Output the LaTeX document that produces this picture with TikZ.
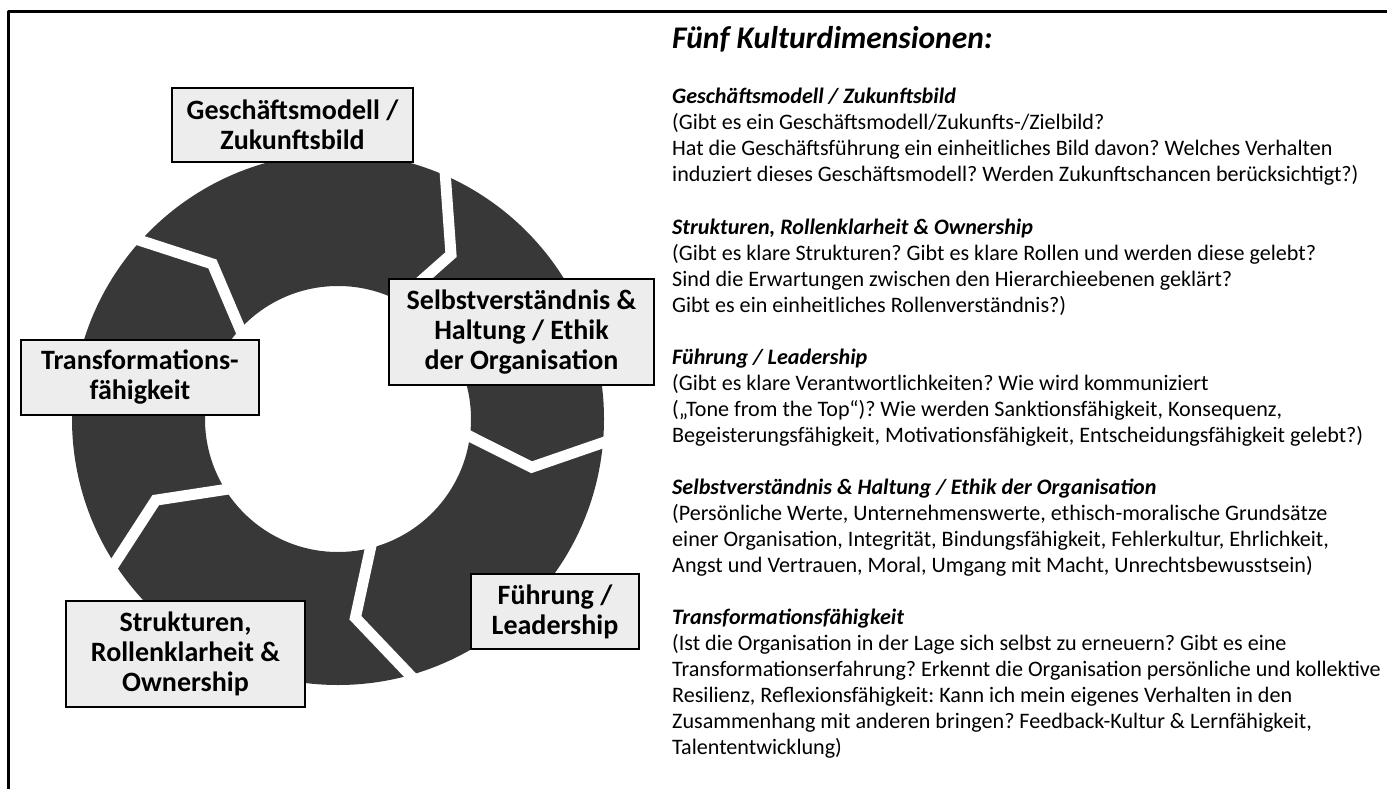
\documentclass[tikz,border=0pt]{standalone}
\usepackage{fontspec}
\setmainfont{Carlito}
\usepackage{tikz}
\definecolor{ringgray}{HTML}{383838}
\definecolor{boxgray}{HTML}{EDEDED}

\begin{document}
\frenchspacing
\begin{tikzpicture}[line cap=round,line join=round,x=1pt,y=1pt,
  dimbox/.style={draw=black,line width=1.8pt,fill=boxgray,align=center,inner sep=0pt,
    line cap=butt,line join=miter,font=\fontsize{28}{30}\selectfont\bfseries},
  gapline/.style={draw=white,line width=11pt,line cap=butt,line join=miter},
  dimtext/.style={anchor=base west,align=left,inner sep=0pt,font=\fontsize{22.1}{26}\selectfont}]
\useasboundingbox (0,0) rectangle (1387,-789);
\draw [line width=3.2pt,line cap=butt] (8.5,-850) -- (8.5,-11.5) -- (1450,-11.5);
% ring with five gaps (outer / tip / inner angle)
\fill [ringgray,even odd rule] (338,-419) circle (266) (338,-419) circle (133);
\begin{scope}[shift={(338,-419)}]
\foreach \o/\t/\i in {139/129/140,67.5/55.5/65,-4/-14/-5.5,-73/-85/-73,-146/-156/-145.5}
  \draw [gapline] (\o:278) -- (\t:199.5) -- (\i:121);
\end{scope}
% boxes
\node [dimbox,minimum width=241pt,minimum height=74pt] (geschaeft) at (292.5,-125) {Geschäftsmodell /\\Zukunftsbild};
\node [dimbox,minimum width=265pt,minimum height=106pt] (selbst) at (521.5,-332) {Selbstverständnis \&\\Haltung / Ethik\\der Organisation};
\node [dimbox,minimum width=238pt,minimum height=75pt] (transform) at (140,-377.5) {Transformations-\\fähigkeit};
\node [dimbox,minimum width=168pt,minimum height=75pt] (fuehrung) at (555,-611.5) {Führung /\\Leadership};
\node [dimbox,minimum width=239pt,minimum height=106pt] (strukturen) at (185.5,-654) {Strukturen,\\Rollenklarheit \&\\Ownership};
% texts (anchor at the baseline of the last line)
\node [anchor=base west,inner sep=0pt,font=\fontsize{31.5}{36}\selectfont\bfseries\itshape] (titel) at (672,-48.5) {Fünf Kulturdimensionen:};
\node [dimtext] (txtgeschaeft) at (672,-182) {{\bfseries\itshape Geschäftsmodell / Zukunftsbild}\\
(Gibt es ein Geschäftsmodell/Zukunfts-/Zielbild?\\
Hat die Geschäftsführung ein einheitliches Bild davon? Welches Verhalten\\
induziert dieses Geschäftsmodell? Werden Zukunftschancen berücksichtigt?)};
\node [dimtext] (txtstrukturen) at (672,-312) {{\bfseries\itshape Strukturen, Rollenklarheit \& Ownership}\\
(Gibt es klare Strukturen? Gibt es klare Rollen und werden diese gelebt?\\
Sind die Erwartungen zwischen den Hierarchieebenen geklärt?\\
Gibt es ein einheitliches Rollenverständnis?)};
\node [dimtext] (txtfuehrung) at (672,-442) {{\bfseries\itshape Führung / Leadership}\\
(Gibt es klare Verantwortlichkeiten? Wie wird kommuniziert\\
(„Tone from the Top“)? Wie werden Sanktionsfähigkeit, Konsequenz,\\
Begeisterungsfähigkeit, Motivationsfähigkeit, Entscheidungsfähigkeit gelebt?)};
\node [dimtext] (txtselbst) at (672,-572) {{\bfseries\itshape Selbstverständnis \& Haltung / Ethik der Organisation}\\
(Persönliche Werte, Unternehmenswerte, ethisch-moralische Grundsätze\\
einer Organisation, Integrität, Bindungsfähigkeit, Fehlerkultur, Ehrlichkeit,\\
Angst und Vertrauen, Moral, Umgang mit Macht, Unrechtsbewusstsein)};
\node [dimtext] (txttransform) at (672,-754) {{\bfseries\itshape Transformationsfähigkeit}\\
(Ist die Organisation in der Lage sich selbst zu erneuern? Gibt es eine\\
Transformationserfahrung? Erkennt die Organisation persönliche und kollektive\\
Resilienz, Reflexionsfähigkeit: Kann ich mein eigenes Verhalten in den\\
Zusammenhang mit anderen bringen? Feedback-Kultur \& Lernfähigkeit,\\
Talententwicklung)};
\end{tikzpicture}
\end{document}
